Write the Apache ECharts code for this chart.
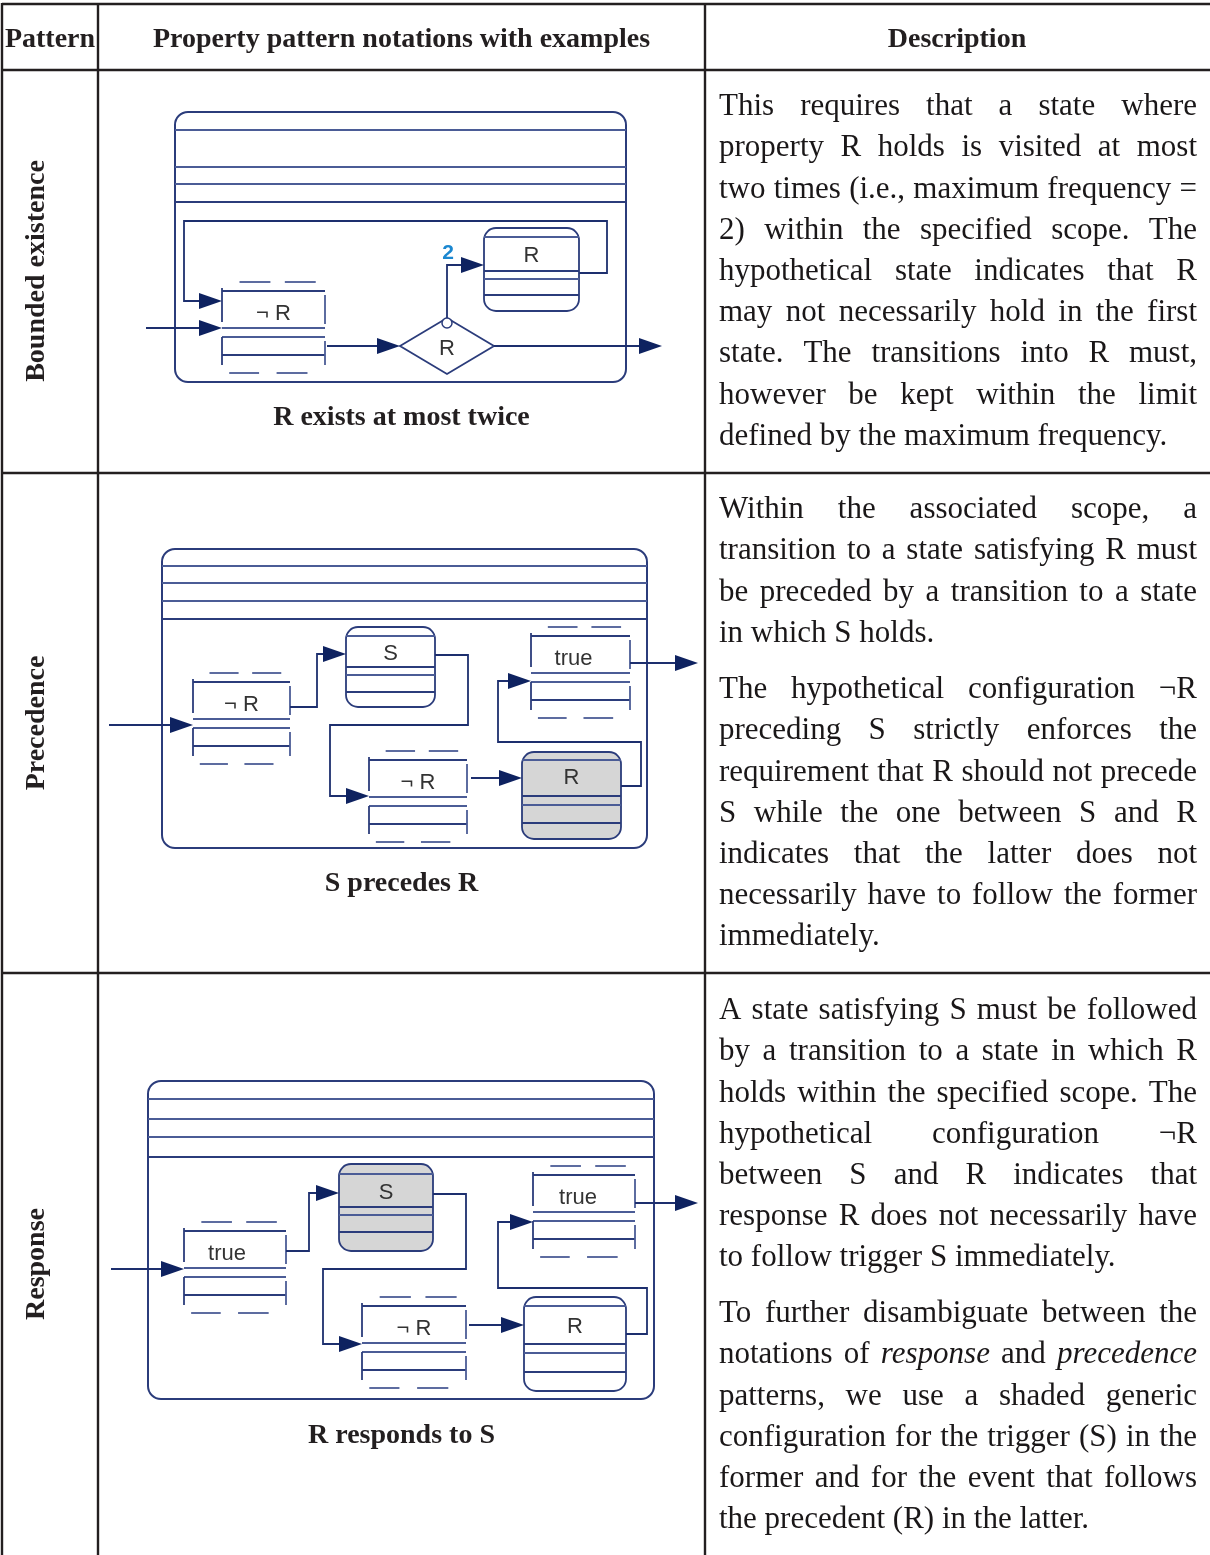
<!DOCTYPE html>
<html><head><meta charset="utf-8">
<script src="https://cdn.jsdelivr.net/npm/echarts@6/dist/echarts.min.js"></script>
<style>html,body{margin:0;padding:0;background:#fff}#c{width:1210px;height:1555px}</style>
</head><body><div id="c"></div>
<script>
// ---------- data (texts) ----------
const headers = ['Pattern', 'Property pattern notations with examples', 'Description'];
const patterns = ['Bounded existence', 'Precedence', 'Response'];
const captions = ['R exists at most twice', 'S precedes R', 'R responds to S'];
const descBounded = [[
  'This requires that a state where',
  'property R holds is visited at most',
  'two times (i.e., maximum frequency =',
  '2) within the specified scope. The',
  'hypothetical state indicates that R',
  'may not necessarily hold in the first',
  'state. The transitions into R must,',
  'however be kept within the limit',
  'defined by the maximum frequency.'
]];
const descPrecedence = [[
  'Within the associated scope, a',
  'transition to a state satisfying R must',
  'be preceded by a transition to a state',
  'in which S holds.'
], [
  'The hypothetical configuration \u00acR',
  'preceding S strictly enforces the',
  'requirement that R should not precede',
  'S while the one between S and R',
  'indicates that the latter does not',
  'necessarily have to follow the former',
  'immediately.'
]];
const descResponse = [[
  'A state satisfying S must be followed',
  'by a transition to a state in which R',
  'holds within the specified scope. The',
  'hypothetical configuration \u00acR',
  'between S and R indicates that',
  'response R does not necessarily have',
  'to follow trigger S immediately.'
], [
  'To further disambiguate between the',
  'notations of *response* and *precedence*',
  'patterns, we use a shaded generic',
  'configuration for the trigger (S) in the',
  'former and for the event that follows',
  'the precedent (R) in the latter.'
]];
const labelsBounded = ['\u00ac R', 'R', 'R', '2'];
const labelsPrecedence = ['\u00ac R', 'S', '\u00ac R', 'R', 'true'];
const labelsResponse = ['true', 'S', '\u00ac R', 'R', 'true'];

// ---------- drawing helpers ----------
const SERIF = '"Liberation Serif","Times New Roman",serif';
const SANS = '"Liberation Sans",Arial,sans-serif';
const INK = '#231f20';
const LINE = '#2b3c7b';
const DASH = '#4b5c96';
const HEAD = '#0e2260';
const FS = 31;
const els = [];

function L(x1, y1, x2, y2, o) {
  els.push({type: 'line', silent: true, shape: {x1, y1, x2, y2},
    style: Object.assign({stroke: LINE, lineWidth: 1.8}, o || {})});
}
function P(points, o) {
  els.push({type: 'polyline', silent: true, shape: {points},
    style: Object.assign({stroke: LINE, lineWidth: 1.8, fill: null}, o || {})});
}
function head(x, y) {
  els.push({type: 'polygon', silent: true, z: 5,
    shape: {points: [[x, y], [x - 23, y - 8], [x - 23, y + 8]]}, style: {fill: HEAD}});
}
function arrow(points) {
  const pts = points.map(p => p.slice());
  const last = pts[pts.length - 1];
  pts[pts.length - 1] = [last[0] - 18, last[1]];
  P(pts, {stroke: '#1d2f6e'});
  head(last[0], last[1]);
}
function T(text, x, y, font, fill, extra) {
  els.push(Object.assign({type: 'text', silent: true, z: 10,
    style: {text, x, y, font, fill: fill || INK, align: 'center', verticalAlign: 'middle',
      textAlign: 'center', textVerticalAlign: 'middle'}}, extra || {}));
}
function TL(text, x, y, font) {
  els.push({type: 'text', silent: true, z: 10,
    style: {text, x, y, font, fill: '#1a1718', align: 'left', verticalAlign: 'middle',
      textAlign: 'left', textVerticalAlign: 'middle'}});
}
function roundRect(x1, y1, x2, y2, r, fill, lw) {
  els.push({type: 'rect', silent: true, shape: {x: x1, y: y1, width: x2 - x1, height: y2 - y1, r},
    style: {stroke: LINE, lineWidth: lw || 1.8, fill: fill || '#fff'}});
}
function config(x1, x2, yT, label, dx) {
  const w = x2 - x1, yM = yT + 37, yA = yM + 9, yB = yA + 18;
  const d = {stroke: DASH, lineWidth: 1.8};
  L(x1 + .17 * w, yT - 9, x1 + .47 * w, yT - 9, d);
  L(x1 + .61 * w, yT - 9, x1 + .91 * w, yT - 9, d);
  L(x1 + .07 * w, yB + 18, x1 + .36 * w, yB + 18, d);
  L(x1 + .53 * w, yB + 18, x1 + .83 * w, yB + 18, d);
  L(x1, yT, x2, yT); L(x1, yM, x2, yM, d); L(x1, yA, x2, yA, d); L(x1, yB, x2, yB);
  L(x1, yT - 3, x1, yM - 6); L(x1, yA, x1, yB + 10);
  L(x2, yT + 4, x2, yM - 4, d); L(x2, yA + 4, x2, yB + 10, d);
  T(label, (x1 + x2) / 2 + (dx || 0), yT + 23, '22px ' + SANS, '#333');
}
function state(x1, x2, yT, yB, lines, label, ly, gray) {
  roundRect(x1, yT, x2, yB, 12, gray ? '#d6d6d6' : '#fff');
  lines.forEach((y, i) => L(x1, y, x2, y, i === 0 || i === 2 ? {stroke: DASH} : null));
  T(label, (x1 + x2) / 2, ly + 1, '22px ' + SANS, '#333');
}
function frame(x1, y1, x2, y2, hl) {
  roundRect(x1, y1, x2, y2, 13, '#fff', 2);
  hl.forEach((y, i) => L(x1, y, x2, y, i < hl.length - 1 ? {stroke: DASH} : {lineWidth: 2}));
}

// ---------- table grid ----------
const tl = {stroke: INK, lineWidth: 2.4};
L(2, 4, 1210, 4, tl);
L(2, 70, 1210, 70, tl);
L(2, 473, 1210, 473, tl);
L(2, 973, 1210, 973, tl);
L(2, 3, 2, 1555, tl);
L(98, 3, 98, 1555, tl);
L(705, 3, 705, 1555, tl);

// header
const HB = 'bold 28px ' + SERIF;
T(headers[0], 50, 40, HB);
T(headers[1], 401.5, 40, HB);
T(headers[2], 957, 40, HB);

// rotated pattern names
const rowMid = [271, 723, 1264];
patterns.forEach((p, i) => {
  els.push({type: 'text', silent: true, x: 37, y: rowMid[i], rotation: Math.PI / 2,
    style: {text: p, x: 0, y: 0, font: HB, fill: INK, align: 'center', verticalAlign: 'middle',
      textAlign: 'center', textVerticalAlign: 'middle'}});
});

// captions
const capY = [418, 884, 1436];
captions.forEach((c, i) => T(c, 401.5, capY[i], HB));

// ---------- justified description text ----------
const ctx = document.createElement('canvas').getContext('2d');
function mw(t, it) { ctx.font = (it ? 'italic ' : '') + FS + 'px ' + SERIF; return ctx.measureText(t).width; }
const X0 = 719, X1 = 1197, LH = 41.2;
function para(lines, y0) {
  lines.forEach((line, li) => {
    const y = y0 + li * LH;
    const words = line.split(' ').map(s => ({t: s.replace(/\*/g, ''), it: s.indexOf('*') >= 0}));
    const ws = words.map(w => mw(w.t, w.it));
    const tot = ws.reduce((a, b) => a + b, 0);
    const last = li === lines.length - 1;
    const gap = (last || words.length < 2) ? mw(' ') : (X1 - X0 - tot) / (words.length - 1);
    let x = X0;
    words.forEach((w, k) => {
      TL(w.t, x, y, (w.it ? 'italic ' : '') + FS + 'px ' + SERIF);
      x += ws[k] + gap;
    });
  });
}
para(descBounded[0], 107);
para(descPrecedence[0], 510);
para(descPrecedence[1], 690);
para(descResponse[0], 1011);
para(descResponse[1], 1314);

// ---------- diagram 1: bounded existence ----------
frame(175, 112, 626, 382, [130, 167, 184, 202]);
P([[579, 273], [607, 273], [607, 221], [184, 221], [184, 301], [204, 301]], {stroke: '#1d2f6e'});
head(222, 301);
arrow([[146, 328], [222, 328]]);
config(222, 325, 291, labelsBounded[0]);
arrow([[327, 346], [400, 346]]);
els.push({type: 'polygon', silent: true, shape: {points: [[400, 346], [447, 318], [494, 346], [447, 374]]},
  style: {stroke: LINE, lineWidth: 1.8, fill: '#fff'}});
T(labelsBounded[1], 447, 349, '22px ' + SANS, '#333');
arrow([[447, 318], [447, 265], [484, 265]]);
els.push({type: 'circle', silent: true, z: 6, shape: {cx: 447, cy: 323, r: 5},
  style: {stroke: LINE, lineWidth: 1.5, fill: '#fff'}});
T(labelsBounded[3], 448, 253, 'bold 21px ' + SANS, '#1b87d0');
state(484, 579, 228, 311, [237, 271, 279, 295], labelsBounded[2], 255);
arrow([[494, 346], [662, 346]]);

// ---------- diagram 2: precedence ----------
frame(162, 549, 647, 848, [566, 583, 601, 619]);
config(193, 290, 682, labelsPrecedence[0]);
arrow([[109, 725], [193, 725]]);
arrow([[290, 707], [317, 707], [317, 654], [346, 654]]);
state(346, 435, 627, 707, [636, 667, 675, 692], labelsPrecedence[1], 653);
arrow([[435, 655], [468, 655], [468, 725], [330, 725], [330, 796], [369, 796]]);
config(369, 467, 760, labelsPrecedence[2]);
arrow([[471, 778], [522, 778]]);
state(522, 621, 752, 839, [760, 796, 805, 823], labelsPrecedence[3], 777, true);
arrow([[621, 786], [641, 786], [641, 742], [498, 742], [498, 681], [531, 681]]);
config(531, 630, 636, labelsPrecedence[4], -7);
arrow([[630, 663], [698, 663]]);

// ---------- diagram 3: response ----------
frame(148, 1081, 654, 1399, [1099, 1119, 1137, 1157]);
config(184, 286, 1231, labelsResponse[0], -8);
arrow([[111, 1269], [184, 1269]]);
arrow([[286, 1251], [309, 1251], [309, 1193], [339, 1193]]);
state(339, 433, 1164, 1251, [1174, 1207, 1215, 1232], labelsResponse[1], 1192, true);
arrow([[433, 1194], [466, 1194], [466, 1269], [323, 1269], [323, 1344], [362, 1344]]);
config(362, 466, 1306, labelsResponse[2]);
arrow([[469, 1325], [524, 1325]]);
state(524, 626, 1297, 1391, [1306, 1344, 1353, 1372], labelsResponse[3], 1326);
arrow([[626, 1334], [647, 1334], [647, 1288], [498, 1288], [498, 1222], [533, 1222]]);
config(533, 635, 1175, labelsResponse[4], -6);
arrow([[635, 1203], [698, 1203]]);

const chart = echarts.init(document.getElementById('c'), null, {renderer: 'canvas'});
chart.setOption({animation: false, graphic: {elements: els}});
</script></body></html>
